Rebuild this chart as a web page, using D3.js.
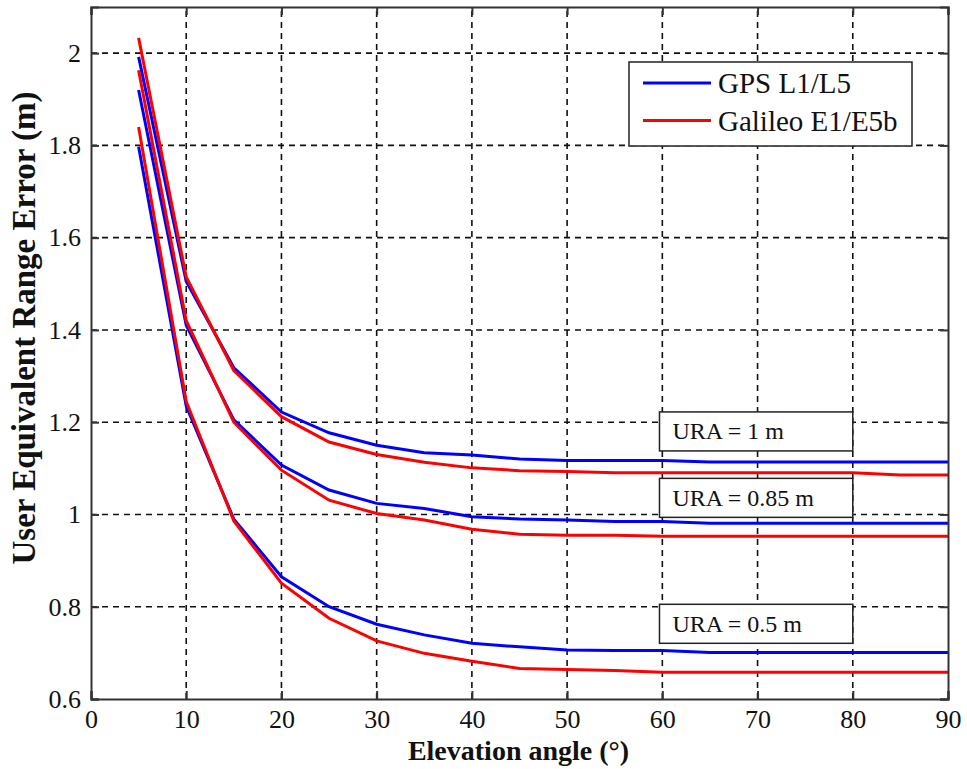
<!DOCTYPE html>
<html>
<head>
<meta charset="utf-8">
<script src="https://cdn.jsdelivr.net/npm/d3@7"></script>
<style>
  html, body { margin: 0; padding: 0; background: #fff; }
  svg { display: block; }
  text { font-family: "Liberation Serif", "Times New Roman", serif; fill: #111; }
</style>
</head>
<body>
<svg id="chart" width="967" height="769"></svg>
<script>
// Elevation angles (degrees)
const elevation = [5, 10, 15, 20, 25, 30, 35, 40, 45, 50, 55, 60, 65, 70, 75, 80, 85, 90];

// UERE (m) for each URA level
const gpsUra100 = [1.992, 1.505, 1.318, 1.222, 1.177, 1.150, 1.134, 1.129, 1.120, 1.117, 1.117, 1.117, 1.114, 1.114, 1.114, 1.114, 1.114, 1.114];
const galUra100 = [2.033, 1.515, 1.312, 1.212, 1.157, 1.130, 1.113, 1.101, 1.095, 1.093, 1.0905, 1.0905, 1.0905, 1.0905, 1.0905, 1.0905, 1.0855, 1.0855];
const gpsUra085 = [1.920, 1.410, 1.205, 1.107, 1.053, 1.024, 1.013, 0.995, 0.990, 0.988, 0.985, 0.985, 0.981, 0.981, 0.981, 0.981, 0.981, 0.981];
const galUra085 = [1.963, 1.420, 1.200, 1.096, 1.031, 1.002, 0.988, 0.968, 0.957, 0.955, 0.955, 0.953, 0.953, 0.953, 0.953, 0.953, 0.953, 0.953];
const gpsUra050 = [1.797, 1.235, 0.990, 0.865, 0.800, 0.762, 0.739, 0.721, 0.713, 0.706, 0.705, 0.705, 0.701, 0.701, 0.701, 0.701, 0.701, 0.701];
const galUra050 = [1.840, 1.245, 0.986, 0.851, 0.775, 0.726, 0.699, 0.682, 0.666, 0.664, 0.662, 0.658, 0.658, 0.658, 0.658, 0.658, 0.658, 0.658];

const xTicks = [0, 10, 20, 30, 40, 50, 60, 70, 80, 90];
const yTicks = [0.6, 0.8, 1.0, 1.2, 1.4, 1.6, 1.8, 2.0];

const seriesNames = ["GPS L1/L5", "Galileo E1/E5b"];
const seriesColors = ["#0000ff", "#ff0000"];

const uraLabels = ["URA = 1 m", "URA = 0.85 m", "URA = 0.5 m"];
const uraLabelAnchor = [1.18, 1.036, 0.763]; // label box centre heights (m)

const svg = d3.select("#chart");
const margin = { left: 91, right: 19, top: 7, bottom: 70 };
const W = 967, H = 769;
const x = d3.scaleLinear().domain([0, 90]).range([margin.left, W - margin.right]);
const y = d3.scaleLinear().domain([0.6, 2.1]).range([H - margin.bottom, margin.top]);

const plot = svg.append("g");

// dashed grid
const gridStyle = sel => sel.attr("stroke", "#111").attr("stroke-width", 1.6).attr("stroke-dasharray", "6,5");
plot.append("g").selectAll("line").data(xTicks.slice(1, -1)).join("line")
  .attr("x1", d => x(d)).attr("x2", d => x(d))
  .attr("y1", y.range()[0]).attr("y2", y.range()[1]).call(gridStyle);
plot.append("g").selectAll("line").data(yTicks.slice(1)).join("line")
  .attr("x1", x.range()[0]).attr("x2", x.range()[1])
  .attr("y1", d => y(d)).attr("y2", d => y(d)).call(gridStyle);

// curves: GPS first, Galileo on top
const line = d3.line().x((d, i) => x(elevation[i])).y(d => y(d));
const curves = [
  [gpsUra100, 0], [gpsUra085, 0], [gpsUra050, 0],
  [galUra100, 1], [galUra085, 1], [galUra050, 1]
];
plot.append("g").selectAll("path").data(curves).join("path")
  .attr("d", c => line(c[0])).attr("fill", "none")
  .attr("stroke", c => seriesColors[c[1]]).attr("stroke-width", 3);

// axes (boxed frame with inward ticks)
const tickLen = 8;
const axB = d3.axisBottom(x).tickValues(xTicks).tickSize(-tickLen).tickPadding(11).tickFormat(d3.format("d"));
const axT = d3.axisTop(x).tickValues(xTicks).tickSize(-tickLen).tickFormat("");
const axL = d3.axisLeft(y).tickValues(yTicks).tickSize(-tickLen).tickPadding(10).tickFormat(d => d3.format("")(+d.toFixed(1)));
const axR = d3.axisRight(y).tickValues(yTicks).tickSize(-tickLen).tickFormat("");

function styleAxis(g) {
  g.selectAll(".domain").attr("stroke", "#333").attr("stroke-width", 2);
  g.selectAll(".tick line").attr("stroke", "#333").attr("stroke-width", 2);
  g.selectAll(".tick text").style("font-family", "'Liberation Serif', serif").style("font-size", "26px").attr("fill", "#111");
}
svg.append("g").attr("transform", `translate(0,${y.range()[0]})`).call(axB).call(styleAxis);
svg.append("g").attr("transform", `translate(0,${y.range()[1]})`).call(axT).call(styleAxis);
svg.append("g").attr("transform", `translate(${x.range()[0]},0)`).call(axL).call(styleAxis);
svg.append("g").attr("transform", `translate(${x.range()[1]},0)`).call(axR).call(styleAxis);

// axis titles
svg.append("text").attr("x", (x.range()[0] + x.range()[1]) / 2 - 1).attr("y", 760)
  .attr("text-anchor", "middle").style("font-size", "28px").style("font-weight", "bold")
  .text("Elevation angle (°)");
svg.append("text").attr("transform", "translate(35,328) rotate(-90)")
  .attr("text-anchor", "middle").style("font-size", "33px").style("font-weight", "bold")
  .text("User Equivalent Range Error (m)");

// URA annotation boxes
const boxX0 = x(59.7), boxX1 = x(80);
const boxH = 39;
uraLabels.forEach((lab, i) => {
  const cy = y(uraLabelAnchor[i]);
  svg.append("rect").attr("x", boxX0).attr("y", cy - boxH / 2).attr("width", boxX1 - boxX0).attr("height", boxH)
    .attr("fill", "#fff").attr("stroke", "#222").attr("stroke-width", 1.5);
  svg.append("text").attr("x", boxX0 + 13).attr("y", cy + 8)
    .style("font-size", "24px").text(lab);
});

// legend
const lg = svg.append("g");
lg.append("rect").attr("x", 629).attr("y", 62).attr("width", 283).attr("height", 84)
  .attr("fill", "#fff").attr("stroke", "#222").attr("stroke-width", 1.5);
seriesNames.forEach((name, i) => {
  const ly = 83 + i * 37.5;
  lg.append("line").attr("x1", 643).attr("x2", 711).attr("y1", ly).attr("y2", ly)
    .attr("stroke", seriesColors[i]).attr("stroke-width", 3);
  lg.append("text").attr("x", 718).attr("y", ly + 10).style("font-size", "29px").text(name);
});
</script>
</body>
</html>
